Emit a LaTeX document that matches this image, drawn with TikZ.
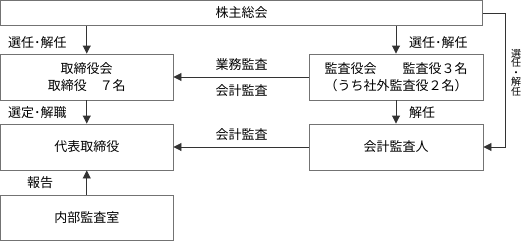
\documentclass[tikz,border=0pt]{standalone}
\usepackage{fontspec}
\setmainfont{Noto Sans CJK JP}
\usetikzlibrary{arrows.meta}
\tikzset{
  box/.style={draw=black!55, line width=0.9pt, inner sep=0pt, align=center, font=\fontsize{13}{17.5}\selectfont},
  conn/.style={draw=black!80, line width=0.9pt, -{Triangle[length=8pt,width=8pt]}},
  lab/.style={inner sep=0pt, font=\fontsize{13}{16}\selectfont},
}
\begin{document}
\begin{tikzpicture}[x=1pt,y=-1pt]
\useasboundingbox (0,0) rectangle (525,241);
% boxes
\node[box, minimum width=482pt, minimum height=25.5pt] (top) at (241.5,13) {株主総会};
\node[box, minimum width=172.5pt, minimum height=46pt] (board) at (86.75,77) {取締役会\\取締役　７名};
\node[box, minimum width=174pt, minimum height=46pt] (kansa) at (396,77) {監査役会　　監査役３名\\（うち社外監査役２名）};
\node[box, minimum width=172.5pt, minimum height=46pt] (rep) at (86.75,147) {代表取締役};
\node[box, minimum width=174pt, minimum height=46pt] (auditor) at (396,147) {会計監査人};
\node[box, minimum width=172.5pt, minimum height=45pt] (internal) at (86.75,217.5) {内部監査室};
% connectors
\draw[conn] (top.south -| board) -- (board.north);
\draw[conn] (top.south -| kansa) -- (kansa.north);
\draw[conn] (kansa.west) -- (board.east);
\draw[conn] (board.south) -- (rep.north);
\draw[conn] (kansa.south) -- (auditor.north);
\draw[conn] (auditor.west) -- (rep.east);
\draw[conn] (internal.north) -- (rep.south);
\coordinate (c1) at (505,13);
\coordinate (c2) at (505,147);
\draw[conn] (top.east) -- (c1) -- (c2) -- (auditor.east);
% labels
\node[lab, anchor=west] (l1) at (8,43) {選任･解任};
\node[lab, anchor=west] (l2) at (409,43) {選任･解任};
\node[lab] (l3) at (241.5,65) {業務監査};
\node[lab] (l4) at (241.5,90.5) {会計監査};
\node[lab, anchor=west] (l5) at (8,112.5) {選定･解職};
\node[lab, anchor=west] (l6) at (409,112.5) {解任};
\node[lab] (l7) at (241.5,135) {会計監査};
\node[lab, anchor=west] (l8) at (27,183) {報告};
\node[inner sep=0pt, align=center, font=\fontsize{10}{9.5}\selectfont] (l9) at (516,72.5) {選\\任\\・\\解\\任};
\end{tikzpicture}
\end{document}
